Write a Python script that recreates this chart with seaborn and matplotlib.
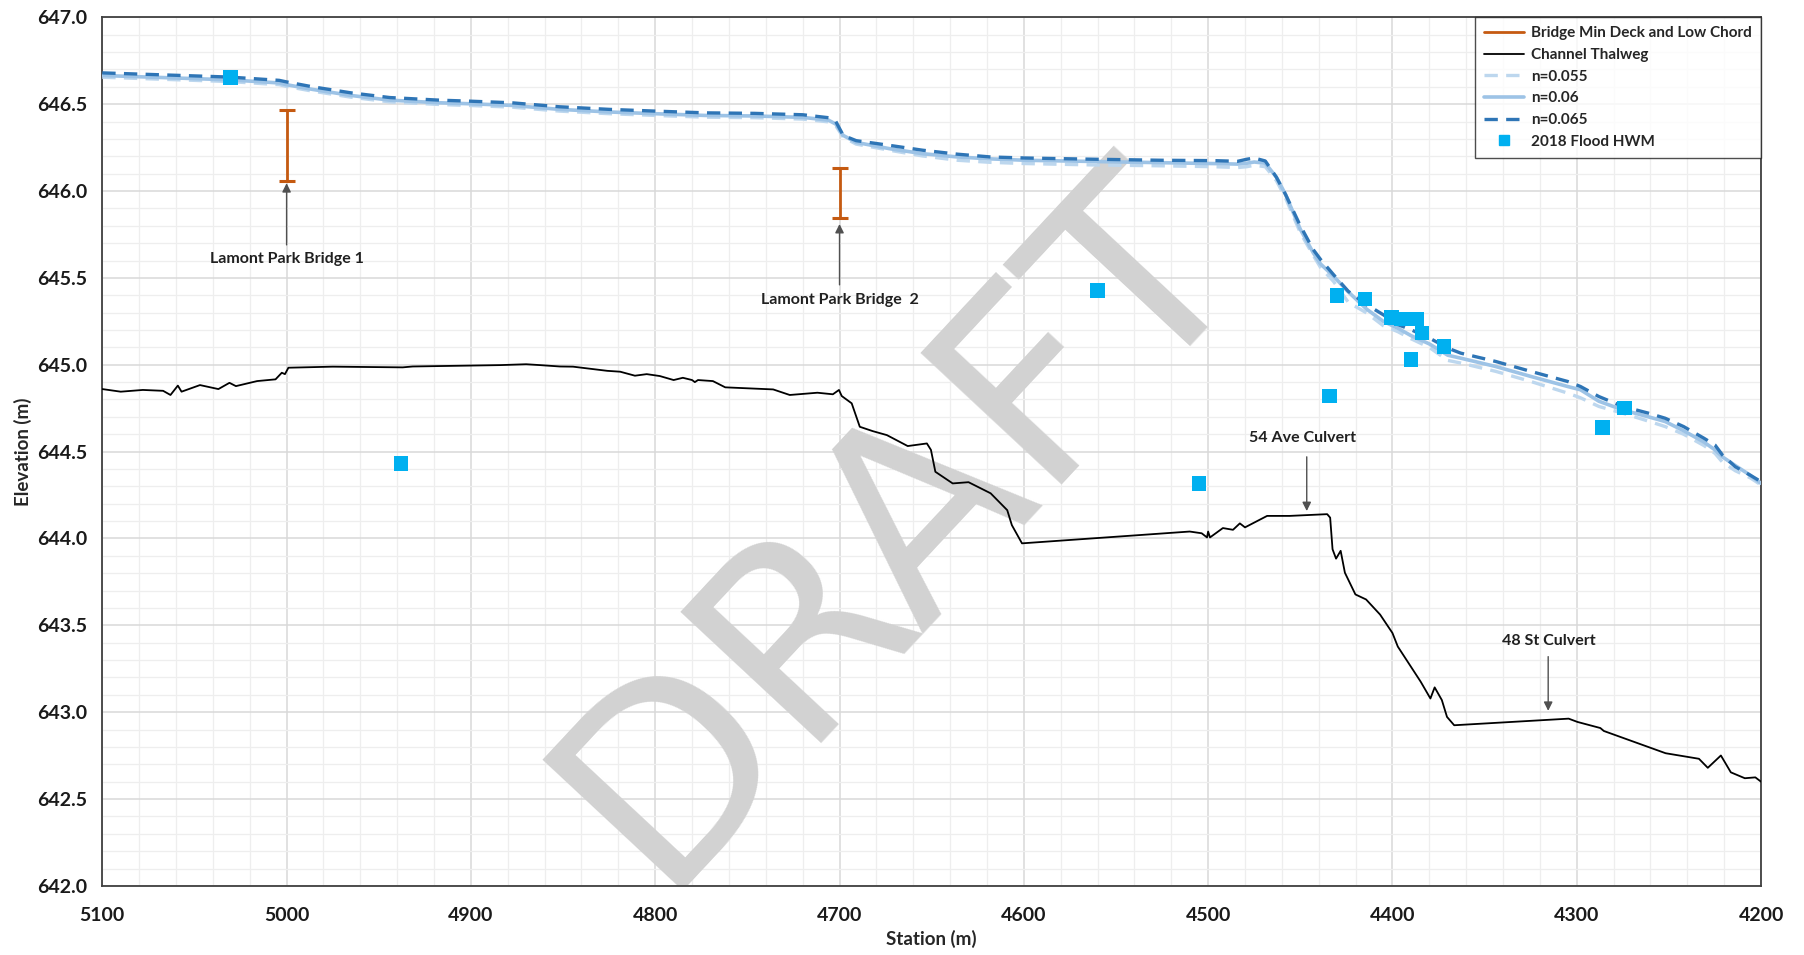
import matplotlib
matplotlib.use("Agg")
import matplotlib.pyplot as plt
import seaborn as sns
import pandas as pd
from matplotlib.lines import Line2D
from matplotlib.ticker import MultipleLocator, FormatStrFormatter

# ---- data ----
thalweg_sta = [5100, 5090, 5078, 5067, 5063, 5059, 5057, 5047, 5037, 5031, 5027.5, 5016, 5006,
               5002.6, 5000.9, 4999, 4975, 4937, 4931.6, 4884, 4870, 4862.6, 4851.7, 4844.6, 4826,
               4819, 4811, 4804.6, 4797.5, 4790, 4785, 4780, 4778.5, 4776.8, 4768.7, 4762, 4736,
               4727, 4712, 4703.6, 4700.3, 4698.8, 4693.4, 4689, 4682, 4674.3, 4663, 4652.6,
               4650.4, 4648, 4638.6, 4630, 4618, 4609, 4606.5, 4601, 4510, 4503.5, 4500.6, 4500,
               4499, 4492, 4486.5, 4482.8, 4480, 4468, 4455.8, 4435.4, 4433.8, 4432.5, 4430.6,
               4428.1, 4425.8, 4420.1, 4414.3, 4406.7, 4400, 4397.1, 4384.7, 4379.4, 4377.1,
               4373.2, 4370.4, 4366.5, 4304.4, 4299.6, 4287.2, 4285.3, 4251.8, 4233.7, 4228.9,
               4221.8, 4216.4, 4208.8, 4203.1, 4200]
thalweg_elev = [644.86, 644.845, 644.855, 644.85, 644.826, 644.88, 644.845, 644.883, 644.86,
                644.896, 644.877, 644.906, 644.916, 644.954, 644.946, 644.983, 644.989, 644.985,
                644.99, 644.998, 645.003, 644.998, 644.99, 644.989, 644.965, 644.96, 644.937,
                644.946, 644.935, 644.912, 644.925, 644.912, 644.9, 644.912, 644.906, 644.87,
                644.858, 644.826, 644.839, 644.83, 644.855, 644.82, 644.778, 644.643, 644.618,
                644.595, 644.532, 644.547, 644.51, 644.384, 644.317, 644.324, 644.26, 644.163,
                644.077, 643.972, 644.04, 644.03, 644.006, 644.04, 644.006, 644.06, 644.05,
                644.087, 644.064, 644.13, 644.13, 644.14, 644.12, 643.938, 643.884, 643.929,
                643.803, 643.678, 643.649, 643.562, 643.456, 643.378, 643.176, 643.079, 643.143,
                643.07, 642.973, 642.925, 642.963, 642.944, 642.909, 642.892, 642.764, 642.732,
                642.68, 642.751, 642.654, 642.62, 642.625, 642.60]

ws_sta = [5100, 5031, 5004, 5000, 4986, 4965, 4944, 4917, 4900, 4878, 4852, 4825, 4800, 4773,
          4746, 4720, 4706, 4702, 4698, 4691, 4673, 4655, 4636, 4618, 4599, 4562, 4525, 4497,
          4484, 4479, 4475, 4469, 4463, 4458, 4450, 4443, 4439, 4432, 4424, 4414, 4405, 4397,
          4390, 4380, 4370, 4363, 4344, 4325, 4305, 4298, 4288, 4275, 4261, 4252, 4242, 4231,
          4225, 4221, 4214, 4206, 4200]
ws_n065 = [646.68, 646.656, 646.637, 646.628, 646.60, 646.565, 646.538, 646.523, 646.517,
           646.508, 646.485, 646.47, 646.46, 646.45, 646.447, 646.439, 646.422, 646.40, 646.32,
           646.29, 646.263, 646.235, 646.212, 646.196, 646.19, 646.183, 646.177, 646.175,
           646.171, 646.183, 646.19, 646.173, 646.08, 645.98, 645.80, 645.663, 645.606, 645.519,
           645.423, 645.346, 645.288, 645.231, 645.202, 645.154, 645.096, 645.067, 645.019,
           644.962, 644.904, 644.875, 644.817, 644.76, 644.721, 644.692, 644.644, 644.577,
           644.538, 644.481, 644.413, 644.365, 644.327]
ws_n060 = [646.665, 646.64, 646.622, 646.612, 646.585, 646.55, 646.523, 646.508, 646.502,
           646.493, 646.47, 646.455, 646.445, 646.435, 646.432, 646.424, 646.408, 646.385,
           646.32, 646.28, 646.244, 646.215, 646.196, 646.185, 646.177, 646.17, 646.163,
           646.158, 646.155, 646.16, 646.167, 646.16, 646.08, 645.98, 645.78, 645.645, 645.58,
           645.51, 645.42, 645.32, 645.25, 645.21, 645.168, 645.12, 645.055, 645.038, 644.99,
           644.933, 644.875, 644.856, 644.79, 644.74, 644.70, 644.673, 644.62, 644.555, 644.51,
           644.47, 644.42, 644.365, 644.317]
ws_n055 = [646.655, 646.63, 646.612, 646.602, 646.575, 646.54, 646.513, 646.498, 646.492,
           646.483, 646.46, 646.445, 646.435, 646.425, 646.422, 646.414, 646.398, 646.375,
           646.31, 646.27, 646.235, 646.202, 646.177, 646.165, 646.158, 646.15, 646.145,
           646.14, 646.135, 646.14, 646.148, 646.14, 646.06, 645.96, 645.76, 645.63, 645.56,
           645.48, 645.36, 645.298, 645.225, 645.19, 645.15, 645.10, 645.025, 645.01, 644.962,
           644.904, 644.837, 644.81, 644.76, 644.721, 644.675, 644.644, 644.60, 644.535,
           644.49, 644.44, 644.39, 644.35, 644.308]

hwm_sta = [5030.5, 4938, 4560, 4505, 4434, 4430.2, 4415, 4400.4, 4395.2, 4389.9, 4387, 4383.9,
           4372.1, 4286, 4274.2]
hwm_elev = [646.655, 644.43, 645.426, 644.315, 644.821, 645.398, 645.379, 645.273, 645.263,
            645.029, 645.263, 645.183, 645.106, 644.64, 644.75]

bridge_sta = [5000, 4700]
bridge_deck = [646.466, 646.13]
bridge_chord = [646.056, 645.843]

labels = ["Lamont Park Bridge 1", "Lamont Park Bridge  2", "54 Ave Culvert", "48 St Culvert"]
label_sta = [5000, 4700, 4449, 4315]
label_elev = [645.61, 645.37, 644.578, 643.41]
arrow_tail = [645.69, 645.46, 644.47, 643.32]
arrow_tip = [646.045, 645.81, 644.158, 643.008]
arrow_sta = [5000, 4700, 4446.5, 4315.5]

# ---- style ----
sns.set_theme(style="white")
plt.rcParams["font.family"] = ["Lato", "DejaVu Sans"]

c_dark = "#2E75B6"
c_mid = "#9DC3E6"
c_light = "#BDD7EE"
c_orange = "#C55A11"
c_hwm = "#00B0F0"

fig = plt.figure(figsize=(18.04, 9.55), dpi=100)
ax = fig.add_axes([0.0567, 0.0723, 0.9195, 0.9096])

thalweg = pd.DataFrame({"Station": thalweg_sta, "Elevation": thalweg_elev})
ws = pd.DataFrame({"Station": ws_sta, "n055": ws_n055, "n060": ws_n060, "n065": ws_n065})
hwm = pd.DataFrame({"Station": hwm_sta, "Elevation": hwm_elev})

# watermark
ax.text(4668, 644.08, "DRAFT", fontsize=190, color="#d2d2d2", rotation=47,
        ha="center", va="center", rotation_mode="anchor", zorder=1, clip_on=True,
        family=["DejaVu Sans"])

sns.lineplot(data=thalweg, x="Station", y="Elevation", ax=ax, color="black", lw=1.3,
             sort=False, estimator=None, zorder=3)
sns.lineplot(data=ws, x="Station", y="n055", ax=ax, color=c_light, lw=2.4, sort=False,
             estimator=None, zorder=4).lines[-1].set_dashes([4, 2.5])
sns.lineplot(data=ws, x="Station", y="n060", ax=ax, color=c_mid, lw=2.6, sort=False,
             estimator=None, zorder=5)
sns.lineplot(data=ws, x="Station", y="n065", ax=ax, color=c_dark, lw=2.4, sort=False,
             estimator=None, zorder=6).lines[-1].set_dashes([4, 2.5])
sns.scatterplot(data=hwm, x="Station", y="Elevation", ax=ax, marker="s", s=110,
                color=c_hwm, edgecolor="none", zorder=7)

for s, top, bot in zip(bridge_sta, bridge_deck, bridge_chord):
    ax.plot([s, s], [top, bot], color=c_orange, lw=2, marker="_", markersize=12,
            markeredgewidth=2.2, zorder=6)

for txt, ls, le, a_s, tail, tip in zip(labels, label_sta, label_elev, arrow_sta, arrow_tail, arrow_tip):
    ax.annotate("", xy=(a_s, tip), xytext=(a_s, tail),
                arrowprops=dict(arrowstyle="-|>", color="#505050", lw=1.0,
                                mutation_scale=13, shrinkA=0, shrinkB=0), zorder=8)
    ax.text(ls, le, txt, ha="center", va="center", fontsize=11.5, fontweight="bold",
            color="#202020", zorder=8)

ax.set_xlim(5100, 4200)
ax.set_ylim(642.0, 647.0)
ax.xaxis.set_major_locator(MultipleLocator(100))
ax.xaxis.set_minor_locator(MultipleLocator(20))
ax.yaxis.set_major_locator(MultipleLocator(0.5))
ax.yaxis.set_minor_locator(MultipleLocator(0.1))
ax.yaxis.set_major_formatter(FormatStrFormatter("%.1f"))
ax.xaxis.set_major_formatter(FormatStrFormatter("%d"))
ax.grid(which="major", color="#d9d9d9", lw=1.1)
ax.grid(which="minor", color="#eeeeee", lw=0.9)
ax.set_axisbelow(True)
ax.tick_params(which="both", length=0, labelsize=14, colors="#1a1a1a")
ax.tick_params(axis="x", pad=15)
ax.tick_params(axis="y", pad=11)
for lab in ax.get_xticklabels() + ax.get_yticklabels():
    lab.set_fontweight("bold")
for sp in ax.spines.values():
    sp.set_color("#404040")
    sp.set_linewidth(1.3)

ax.set_xlabel("Station (m)", fontsize=13.5, fontweight="bold")
ax.set_ylabel("Elevation (m)", fontsize=13.5, fontweight="bold")
ax.xaxis.set_label_coords(0.5, -0.051)
ax.yaxis.set_label_coords(-0.0425, 0.5)

handles = [
    Line2D([], [], color=c_orange, lw=2),
    Line2D([], [], color="black", lw=1.3),
    Line2D([], [], color=c_light, lw=2.4, dashes=[4, 2.5]),
    Line2D([], [], color=c_mid, lw=2.6),
    Line2D([], [], color=c_dark, lw=2.4, dashes=[4, 2.5]),
    Line2D([], [], color=c_hwm, marker="s", ls="none", markersize=7),
]
names = ["Bridge Min Deck and Low Chord", "Channel Thalweg", "n=0.055", "n=0.06", "n=0.065",
         "2018 Flood HWM"]
leg = ax.legend(handles, names, loc="upper right", bbox_to_anchor=(1, 1), borderaxespad=0,
                frameon=True, fancybox=False, fontsize=11, handlelength=2.6,
                handletextpad=0.5, labelspacing=0.5, borderpad=0.6)
leg.get_frame().set_edgecolor("#202020")
leg.get_frame().set_linewidth(1.0)
for t in leg.get_texts():
    t.set_fontweight("bold")

fig.savefig("out.png", dpi=100)
